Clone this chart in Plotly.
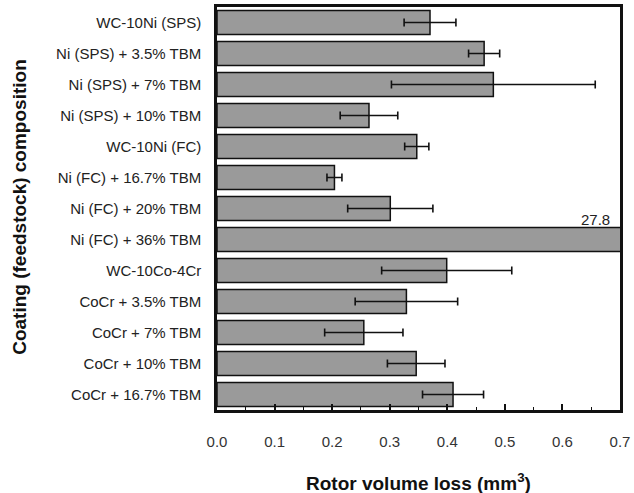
import plotly.graph_objects as go

categories = [
    "WC-10Ni (SPS)",
    "Ni (SPS) + 3.5% TBM",
    "Ni (SPS) + 7% TBM",
    "Ni (SPS) + 10% TBM",
    "WC-10Ni (FC)",
    "Ni (FC) + 16.7% TBM",
    "Ni (FC) + 20% TBM",
    "Ni (FC) + 36% TBM",
    "WC-10Co-4Cr",
    "CoCr + 3.5% TBM",
    "CoCr + 7% TBM",
    "CoCr + 10% TBM",
    "CoCr + 16.7% TBM",
]
volume_loss = [0.370, 0.464, 0.480, 0.264, 0.347, 0.204, 0.301, 27.8, 0.399, 0.329, 0.255, 0.346, 0.410]
error = [0.045, 0.027, 0.177, 0.050, 0.021, 0.013, 0.074, 0.0, 0.113, 0.089, 0.068, 0.050, 0.053]
x_ticks = [0.0, 0.1, 0.2, 0.3, 0.4, 0.5, 0.6, 0.7]
off_scale_label = "27.8"

FONT = "Liberation Sans, Arial, sans-serif"

fig = go.Figure()
fig.add_trace(go.Bar(
    y=categories,
    x=volume_loss,
    orientation="h",
    marker=dict(color="#9a9a9a", line=dict(color="#111111", width=1.5)),
    error_x=dict(type="data", array=error, visible=True, color="#111111", thickness=1.6, width=4),
    showlegend=False,
))

fig.add_annotation(
    x=0.7, y=categories[7], xref="x", yref="y",
    text=off_scale_label, showarrow=False,
    xanchor="right", yanchor="middle", xshift=-8, yshift=20,
    font=dict(family=FONT, size=15, color="#222222"),
)
fig.add_annotation(
    x=0.5, y=-0.179, xref="paper", yref="paper",
    text="<b>Rotor volume loss (mm<sup>3</sup>)</b>", showarrow=False,
    xanchor="center", yanchor="middle",
    font=dict(family=FONT, size=19, color="#111111"),
)
fig.add_annotation(
    x=-0.489, y=0.504, xref="paper", yref="paper",
    text="<b>Coating (feedstock) composition</b>", showarrow=False,
    textangle=-90, xanchor="center", yanchor="middle",
    font=dict(family=FONT, size=19, color="#111111"),
)

fig.update_layout(
    width=634, height=493,
    margin=dict(l=217, r=14, t=7, b=83, autoexpand=False),
    paper_bgcolor="white", plot_bgcolor="white",
    bargap=0.22,
    font=dict(family=FONT, color="#222222"),
    xaxis=dict(
        range=[0, 0.7], tickvals=x_ticks, tickformat=".1f",
        ticks="inside", ticklen=6, tickwidth=1.5, tickcolor="#111111",
        minor=dict(dtick=0.05, ticks="inside", ticklen=3, tickcolor="#111111", tickwidth=1),
        showline=True, linecolor="#111111", linewidth=2.5, mirror=True,
        showgrid=False, zeroline=False,
        tickfont=dict(family=FONT, size=15, color="#333333"),
        ticklabelstandoff=16,
    ),
    yaxis=dict(
        autorange="reversed",
        showline=True, linecolor="#111111", linewidth=2.5, mirror=True,
        showgrid=False, zeroline=False, ticks="",
        tickfont=dict(family=FONT, size=15, color="#222222"),
        ticklabelstandoff=10,
    ),
)

fig.write_html("out.html")
